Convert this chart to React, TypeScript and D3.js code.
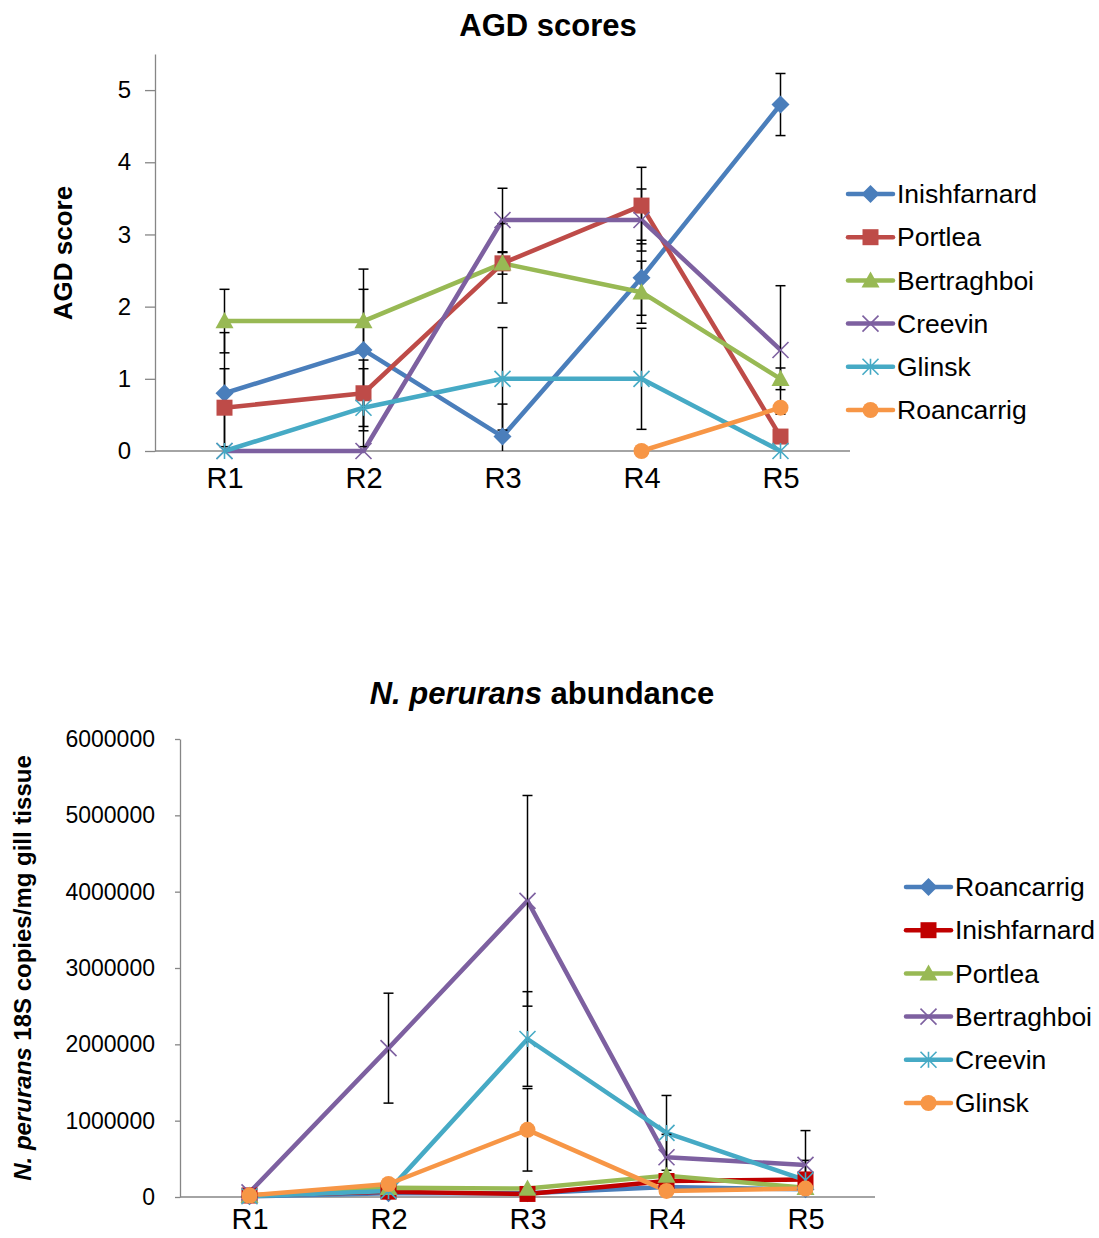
import React, { useEffect, useRef } from 'react';
import * as d3 from 'd3';

const FONT = '"Liberation Sans", Arial, Helvetica, sans-serif';

// shared categories
const rounds = ['R1', 'R2', 'R3', 'R4', 'R5'];

// ---- AGD scores (top panel) ----
const agdSites = ['Inishfarnard', 'Portlea', 'Bertraghboi', 'Creevin', 'Glinsk', 'Roancarrig'];
const agdInishfarnard = [0.8, 1.4, 0.2, 2.4, 4.8];
const agdPortlea = [0.6, 0.8, 2.6, 3.4, 0.2];
const agdBertraghboi = [1.8, 1.8, 2.6, 2.2, 1.0];
const agdCreevin = [0, 0, 3.2, 3.2, 1.4];
const agdGlinsk = [0, 0.6, 1.0, 1.0, 0];
const agdRoancarrig = [null, null, null, 0, 0.6];

const agdErrInishfarnard = [0.84, 1.12, 0.45, 0.52, 0.43];
const agdErrPortlea = [0.54, 0.46, 0.55, 0.53, 0];
const agdErrBertraghboi = [0.44, 0.44, 0.15, 0.43, 0.15];
const agdErrCreevin = [0, 0, 0.44, 0.43, 0.89];
const agdErrGlinsk = [0, 0.54, 0.71, 0.7, 0];
const agdErrRoancarrig = [null, null, null, 0, 0];

const agdTicks = [0, 1, 2, 3, 4, 5];

// ---- N. perurans abundance (bottom panel) ----
const abSites = ['Roancarrig', 'Inishfarnard', 'Portlea', 'Bertraghboi', 'Creevin', 'Glinsk'];
const abRoancarrig = [10000, 50000, 50000, 130000, 100000];
const abInishfarnard = [20000, 70000, 40000, 210000, 230000];
const abPortlea = [20000, 120000, 110000, 280000, 120000];
const abBertraghboi = [60000, 1950000, 3880000, 520000, 420000];
const abCreevin = [10000, 80000, 2070000, 840000, 220000];
const abGlinsk = [20000, 170000, 880000, 80000, 110000];

const abErrRoancarrig = [0, 0, 0, 0, 0];
const abErrInishfarnard = [0, 0, 0, 0, 0];
const abErrPortlea = [0, 0, 0, 0, 0];
const abErrBertraghboi = [0, 720000, 1380000, 300000, 450000];
const abErrCreevin = [0, 0, 620000, 490000, 260000];
const abErrGlinsk = [0, 0, 540000, 0, 0];

const abTicks = [0, 1000000, 2000000, 3000000, 4000000, 5000000, 6000000];

// styles
const agdColors = ['#4A7EBB', '#BE4B48', '#98B954', '#7D60A0', '#46AAC5', '#F79646'];
const agdMarkers = ['diamond', 'square', 'triangle', 'x', 'star', 'circle'];
const abColors = ['#4A7EBB', '#C00000', '#98B954', '#7D60A0', '#46AAC5', '#F79646'];
const abMarkers = ['diamond', 'square', 'triangle', 'x', 'star', 'circle'];

function markerPath(shape, r) {
  switch (shape) {
    case 'diamond': return `M0,${-r}L${r},0L0,${r}L${-r},0Z`;
    case 'square': return `M${-r},${-r}H${r}V${r}H${-r}Z`;
    case 'triangle': return `M0,${-r}L${r},${r * 0.8}L${-r},${r * 0.8}Z`;
    case 'x': return `M${-r},${-r}L${r},${r}M${-r},${r}L${r},${-r}`;
    case 'star': return `M${-r},${-r}L${r},${r}M${-r},${r}L${r},${-r}M0,${-r}V${r}`;
    default: return `M${r},0A${r},${r} 0 1,1 ${-r},0A${r},${r} 0 1,1 ${r},0Z`;
  }
}

const markerSize = { diamond: 9, square: 8, triangle: 9, x: 8, star: 8, circle: 8 };

function drawMarker(g, shape, color, x, y) {
  const open = shape === 'x' || shape === 'star';
  g.append('path')
    .attr('transform', `translate(${x},${y})`)
    .attr('d', markerPath(shape, markerSize[shape]))
    .attr('fill', open ? 'none' : color)
    .attr('stroke', open ? color : 'none')
    .attr('stroke-width', open ? 1.6 : 0);
}

function drawPanel(svg, p) {
  const x = d3.scalePoint().domain(rounds).range(p.xRange).padding(0.5);
  const y = d3.scaleLinear().domain(p.yDomain).range(p.yRange);
  const g = svg.append('g');

  // title
  const title = g.append('text')
    .attr('x', p.titleX)
    .attr('y', p.titleY)
    .attr('text-anchor', 'middle')
    .attr('font-family', FONT)
    .attr('font-weight', 'bold')
    .attr('font-size', 31)
    .attr('fill', '#000');
  p.title.forEach((t) => {
    title.append('tspan').attr('font-style', t.italic ? 'italic' : 'normal').text(t.text);
  });

  // y label
  const ylab = g.append('text')
    .attr('transform', `translate(${p.yLabelX},${p.yLabelY}) rotate(-90)`)
    .attr('text-anchor', 'middle')
    .attr('dy', '0.35em')
    .attr('font-family', FONT)
    .attr('font-weight', 'bold')
    .attr('font-size', p.yLabelSize)
    .attr('fill', '#000');
  p.yLabel.forEach((t) => {
    ylab.append('tspan').attr('font-style', t.italic ? 'italic' : 'normal').text(t.text);
  });

  // y axis
  const yAxis = g.append('g')
    .attr('transform', `translate(${p.xRange[0]},0)`)
    .call(d3.axisLeft(y).tickValues(p.ticks).tickFormat(d3.format('d'))
      .tickSize(p.tickSize).tickSizeOuter(0).tickPadding(p.tickPadding));
  yAxis.select('.domain').attr('stroke', '#868686').attr('stroke-width', 1.3);
  yAxis.selectAll('.tick line').attr('stroke', '#868686').attr('stroke-width', 1.3);
  yAxis.selectAll('.tick text')
    .attr('font-family', FONT)
    .attr('font-size', p.tickFont)
    .attr('fill', '#000');

  // x axis
  const xAxis = g.append('g')
    .attr('transform', `translate(0,${y(0)})`)
    .call(d3.axisBottom(x).tickSize(0).tickSizeOuter(0).tickPadding(p.catPadding));
  xAxis.select('.domain').attr('stroke', '#868686').attr('stroke-width', 1.3)
    .attr('d', `M${p.xRange[0]},0H${p.xRange[1]}`);
  xAxis.selectAll('.tick text')
    .attr('font-family', FONT)
    .attr('font-size', 29)
    .attr('fill', '#000');

  const lines = g.append('g');
  const bars = g.append('g');
  const marks = g.append('g');
  const line = d3.line()
    .defined((d) => d[1] != null)
    .x((d) => x(d[0]))
    .y((d) => y(d[1]));

  p.series.forEach((s) => {
    const pts = rounds.map((r, i) => [r, s.values[i]]);
    lines.append('path')
      .attr('d', line(pts))
      .attr('fill', 'none')
      .attr('stroke', s.color)
      .attr('stroke-width', 4.5)
      .attr('stroke-linejoin', 'round');

    rounds.forEach((r, i) => {
      const v = s.values[i];
      const e = s.errors[i];
      if (v == null || !e) return;
      const cx = x(r);
      const hi = v + e;
      const lo = Math.max(v - e, p.yDomain[0]);
      bars.append('line')
        .attr('x1', cx).attr('x2', cx)
        .attr('y1', y(lo)).attr('y2', y(hi))
        .attr('stroke', '#000').attr('stroke-width', 1.5);
      bars.append('line')
        .attr('x1', cx - 5).attr('x2', cx + 5)
        .attr('y1', y(hi)).attr('y2', y(hi))
        .attr('stroke', '#000').attr('stroke-width', 1.5);
      if (v - e > p.yDomain[0]) {
        bars.append('line')
          .attr('x1', cx - 5).attr('x2', cx + 5)
          .attr('y1', y(lo)).attr('y2', y(lo))
          .attr('stroke', '#000').attr('stroke-width', 1.5);
      }
    });

    rounds.forEach((r, i) => {
      const v = s.values[i];
      if (v == null) return;
      drawMarker(marks, s.marker, s.color, x(r), y(v));
    });
  });

  // legend
  const legend = g.append('g');
  p.series.forEach((s, i) => {
    const ly = p.legendY + i * 43.2;
    legend.append('line')
      .attr('x1', p.legendX).attr('x2', p.legendX + 45)
      .attr('y1', ly).attr('y2', ly)
      .attr('stroke', s.color).attr('stroke-width', 4.5)
      .attr('stroke-linecap', 'round');
    drawMarker(legend, s.marker, s.color, p.legendX + 22.5, ly);
    legend.append('text')
      .attr('x', p.legendX + 49)
      .attr('y', ly)
      .attr('dy', '0.35em')
      .attr('font-family', FONT)
      .attr('font-size', 26.5)
      .attr('fill', '#000')
      .text(s.name);
  });
}

export default function App() {
  const ref = useRef(null);

  useEffect(() => {
    const svg = d3.select(ref.current);
    svg.selectAll('*').remove();

    const agdValues = [agdInishfarnard, agdPortlea, agdBertraghboi, agdCreevin, agdGlinsk, agdRoancarrig];
    const agdErrors = [agdErrInishfarnard, agdErrPortlea, agdErrBertraghboi,
      agdErrCreevin, agdErrGlinsk, agdErrRoancarrig];
    drawPanel(svg, {
      title: [{ text: 'AGD scores' }],
      titleX: 548,
      titleY: 36,
      yLabel: [{ text: 'AGD score' }],
      yLabelX: 63,
      yLabelY: 253,
      yLabelSize: 26,
      xRange: [155, 850],
      yDomain: [0, 5.5],
      yRange: [451, 54],
      ticks: agdTicks,
      tickSize: 10,
      tickPadding: 14,
      tickFont: 24,
      catPadding: 16,
      legendX: 848,
      legendY: 194,
      series: agdSites.map((name, i) => ({
        name,
        values: agdValues[i],
        errors: agdErrors[i],
        color: agdColors[i],
        marker: agdMarkers[i],
      })),
    });

    const abValues = [abRoancarrig, abInishfarnard, abPortlea, abBertraghboi, abCreevin, abGlinsk];
    const abErrors = [abErrRoancarrig, abErrInishfarnard, abErrPortlea,
      abErrBertraghboi, abErrCreevin, abErrGlinsk];
    drawPanel(svg, {
      title: [{ text: 'N. perurans', italic: true }, { text: ' abundance' }],
      titleX: 542,
      titleY: 704,
      yLabel: [{ text: 'N. perurans', italic: true }, { text: ' 18S copies/mg gill tissue' }],
      yLabelX: 23,
      yLabelY: 968,
      yLabelSize: 24,
      xRange: [180, 875],
      yDomain: [0, 6000000],
      yRange: [1197, 739],
      ticks: abTicks,
      tickSize: 5,
      tickPadding: 20,
      tickFont: 23,
      catPadding: 11,
      legendX: 906,
      legendY: 887,
      series: abSites.map((name, i) => ({
        name,
        values: abValues[i],
        errors: abErrors[i],
        color: abColors[i],
        marker: abMarkers[i],
      })),
    });
  }, []);

  return (
    <svg
      ref={ref}
      width={1099}
      height={1238}
      style={{ position: 'absolute', left: 0, top: 0, background: '#fff' }}
    />
  );
}
